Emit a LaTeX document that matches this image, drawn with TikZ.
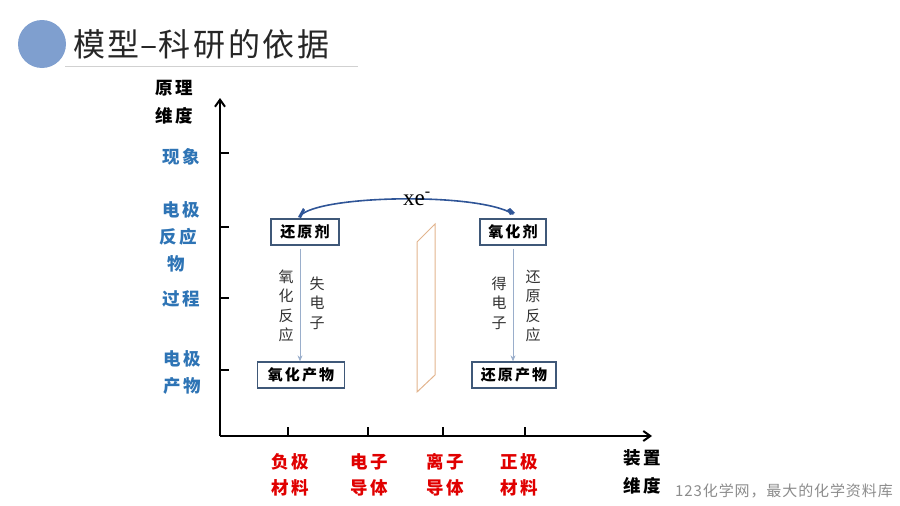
\documentclass[tikz,border=0pt]{standalone}
\usepackage{fontspec}
\setmainfont{Liberation Serif}
\newfontfamily\cjk{Noto Sans CJK SC}
\newfontfamily\cjkls{Noto Sans CJK SC}[LetterSpace=14]
\newfontfamily\cjkt{Noto Sans CJK SC}[LetterSpace=8]
\newfontfamily\cjkw{Noto Sans CJK SC}[LetterSpace=6]
\usetikzlibrary{arrows.meta}
\definecolor{circblue}{HTML}{7F9FCF}
\definecolor{lblblue}{HTML}{2E74B5}
\definecolor{lblred}{HTML}{E00000}
\definecolor{boxedge}{HTML}{3F5878}
\definecolor{arrgray}{HTML}{9AAECB}
\definecolor{arcblue}{HTML}{2F5597}
\definecolor{bridge}{HTML}{E2B48E}
\tikzset{
  ylbl/.style={font=\cjkls\bfseries\fontsize{17.5}{20}\selectfont, text=lblblue, align=center, inner sep=0pt},
  xlbl/.style={font=\cjkls\bfseries\fontsize{17.5}{26}\selectfont, text=lblred, align=center, inner sep=0pt},
  axlbl/.style={font=\cjkls\bfseries\fontsize{17.5}{28}\selectfont, text=black, align=center, inner sep=0pt},
  chembox/.style={draw=boxedge, line width=1.3pt, font=\cjkls\bfseries\fontsize{15}{16}\selectfont, inner sep=0pt, minimum height=26pt},
  vtext/.style={font=\cjk\fontsize{15}{19.5}\selectfont, text=black!80, align=center, inner sep=0pt},
  reacarrow/.style={draw=arrgray, line width=0.8pt, -{Stealth[length=6pt,width=5pt]}},
  axis/.style={line width=2pt, -{Straight Barb[length=7pt,width=10pt]}},
  tick/.style={line width=1.6pt}
}
\begin{document}
\begin{tikzpicture}[x=1pt,y=-1pt]
\useasboundingbox (0,0) rectangle (900,506);
% header
\fill[circblue] (42,44) circle (24);
\node[font=\cjkt\fontsize{32}{34}\selectfont, text=black!85, anchor=west, inner sep=0pt] (title) at (73,44) {模型\hspace{1pt}–\hspace{1pt}科研的依据};
\draw[draw=black!18, line width=0.8pt] (65,66) -- (358,66);
% axes
\coordinate (O) at (220,436);
\coordinate (ytop) at (220,98);
\coordinate (xend) at (652,436);
\draw[axis] (O) -- (ytop);
\draw[axis] (O) -- (xend);
\foreach \y in {153,227,298,370} \draw[tick] (220,\y) -- (229,\y);
\foreach \x in {288,368,443,525} \draw[tick] (\x,436) -- (\x,427);
% axis labels
\node[axlbl] (yname) at (174,102) {原理\\维度};
\node[axlbl] (xname) at (642,472) {装置\\维度};
\node[ylbl] (l1) at (181,157) {现象};
\node[ylbl, font=\cjkls\bfseries\fontsize{17.5}{27}\selectfont] (l2) at (178,237) {\hspace*{6pt}电极\\反应\\\hspace*{-4pt}物};
\node[ylbl] (l3) at (181,299) {过程};
\node[ylbl, font=\cjkls\bfseries\fontsize{17.5}{27}\selectfont] (l4) at (182,372) {电极\\产物};
\node[xlbl] (b1) at (290,475) {负极\\材料};
\node[xlbl] (b2) at (369,475) {电子\\导体};
\node[xlbl] (b3) at (445,475) {离子\\导体};
\node[xlbl] (b4) at (519,475) {正极\\材料};
% boxes
\node[chembox, minimum width=68pt] (red) at (305,232) {还原剂};
\node[chembox, minimum width=66pt] (ox) at (513,232) {氧化剂};
\node[chembox, minimum width=87pt] (oxp) at (301,375) {氧化产物};
\node[chembox, minimum width=84pt] (redp) at (514,375) {还原产物};
% reaction arrows
\draw[reacarrow] ([yshift=-3pt]red.south -| 300,0) -- (oxp.north -| 300,0);
\draw[reacarrow] ([yshift=-3pt]ox.south -| 513,0) -- (redp.north -| 513,0);
\node[vtext] (t1) at (286,306) {氧\\化\\反\\应};
\node[vtext] (t2) at (317,303) {失\\电\\子};
\node[vtext] (t3) at (499,303) {得\\电\\子};
\node[vtext] (t4) at (533,306) {还\\原\\反\\应};
% electron arc
\coordinate (a1) at (300,216);
\coordinate (a2) at (513,214);
\draw[arcblue, line width=1.6pt, line cap=round] (a1) .. controls (318,195) and (478,192) .. (a2);
\fill[arcblue] (298,217) -- (303,208) -- (305,210) -- (301,218) -- cycle;
\fill[arcblue] (507,210) -- (510,208) -- (515,213) -- (510,215) -- cycle;
\node[font=\fontsize{23}{24}\selectfont, inner sep=0pt] (xe) at (417,199) {xe\textsuperscript{-}};
% salt bridge / membrane
\draw[bridge, line width=1pt] (417,242) -- (435,224) -- (435,375) -- (417,392) -- cycle;
% watermark
\node[font=\cjkw\fontsize{15}{16}\selectfont, text=black!45, anchor=west, inner sep=0pt] (wm) at (675,491) {123化学网，最大的化学资料库};
\end{tikzpicture}
\end{document}
